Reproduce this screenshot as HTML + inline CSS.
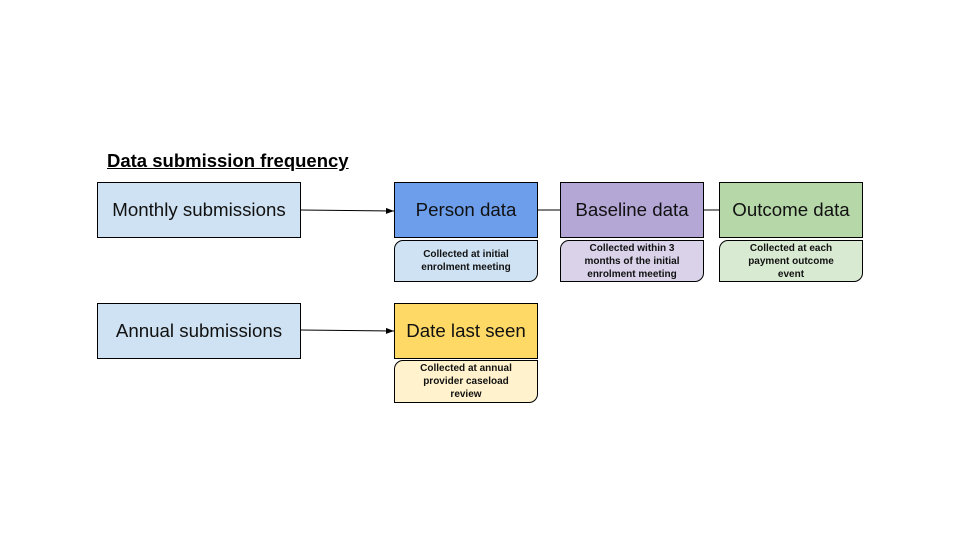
<!DOCTYPE html>
<html><head><style>
body{margin:0;width:960px;height:540px;background:#fff;position:relative;overflow:hidden;font-family:"Liberation Sans",Arial,sans-serif;}
.b{position:absolute;box-sizing:border-box;border:1px solid #000;display:flex;align-items:center;justify-content:center;text-align:center;font-size:18.7px;color:#111;}
.n{position:absolute;box-sizing:border-box;border:1px solid #000;border-radius:9px 0 9px 0;display:flex;align-items:center;justify-content:center;text-align:center;font-size:10px;font-weight:bold;line-height:13px;color:#111;}
.t{position:absolute;left:107px;top:150px;font-size:18.5px;font-weight:bold;text-decoration:underline;color:#000;}
</style></head><body>
<div class="t">Data submission frequency</div>
<svg width="960" height="540" style="position:absolute;left:0;top:0">
<defs><marker id="a" markerWidth="8" markerHeight="6" refX="8" refY="3" orient="auto"><path d="M0,0 L8,3 L0,6z" fill="#000"/></marker></defs>
<line x1="300" y1="210" x2="394" y2="211" stroke="#000" stroke-width="1" marker-end="url(#a)"/>
<line x1="300" y1="330" x2="394" y2="331" stroke="#000" stroke-width="1" marker-end="url(#a)"/>
<line x1="537" y1="210" x2="560" y2="210" stroke="#000" stroke-width="1"/>
<line x1="703" y1="210" x2="719" y2="210" stroke="#000" stroke-width="1"/>
</svg>
<div class="b" style="left:97px;top:182px;width:204px;height:56px;background:#cfe2f3">Monthly submissions</div>
<div class="b" style="left:97px;top:303px;width:204px;height:56px;background:#cfe2f3">Annual submissions</div>
<div class="b" style="left:394px;top:182px;width:144px;height:56px;background:#6d9eeb">Person data</div>
<div class="b" style="left:560px;top:182px;width:144px;height:56px;background:#b4a7d6">Baseline data</div>
<div class="b" style="left:719px;top:182px;width:144px;height:56px;background:#b6d7a8">Outcome data</div>
<div class="b" style="left:394px;top:303px;width:144px;height:56px;background:#ffd966">Date last seen</div>
<div class="n" style="left:394px;top:240px;width:144px;height:42px;background:#cfe2f3">Collected at initial<br>enrolment meeting</div>
<div class="n" style="left:560px;top:240px;width:144px;height:42px;background:#d9d2e9">Collected within 3<br>months of the initial<br>enrolment meeting</div>
<div class="n" style="left:719px;top:240px;width:144px;height:42px;background:#d9ead3">Collected at each<br>payment outcome<br>event</div>
<div class="n" style="left:394px;top:360px;width:144px;height:43px;background:#fff2cc">Collected at annual<br>provider caseload<br>review</div>
</body></html>
